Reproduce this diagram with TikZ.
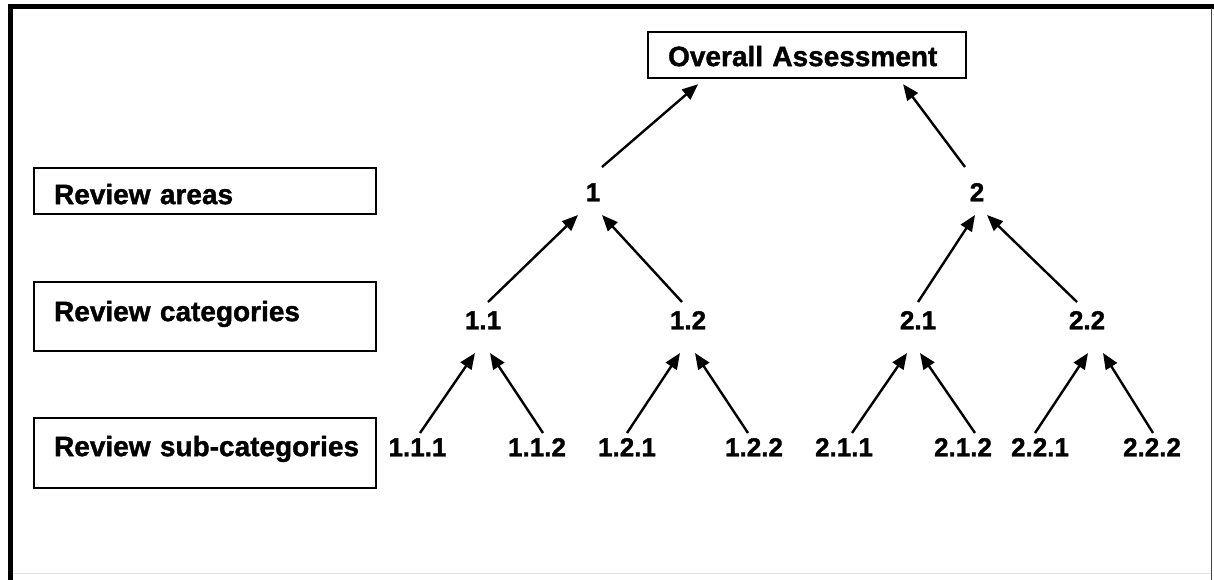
\documentclass[tikz,border=0pt]{standalone}
\usepackage{fontspec}
\setmainfont{Liberation Sans}[BoldFeatures={FakeBold=1.3}]
\usetikzlibrary{arrows.meta,calc}
\begin{document}
\begin{tikzpicture}[x=1pt,y=-1pt,
  every node/.style={font=\bfseries\fontsize{28}{32}\selectfont},
  catbox/.style={draw, line width=2.2pt, inner xsep=20pt, inner ysep=0pt, align=left, anchor=north west},
  num/.style={font=\bfseries\fontsize{26}{28}\selectfont, inner sep=0pt, text height=18.6pt, text depth=0pt},
  arr/.style={line width=2.4pt, -{Triangle[length=16pt,width=13pt]}}
]
\useasboundingbox (0,0) rectangle (1214,580);
\fill[white] (0,0) rectangle (1214,580);
% frame
\draw[line width=5pt] (8,6.5) -- (1214,6.5);
\draw[line width=5pt] (10.5,4) -- (10.5,580);
\draw[line width=1.5pt, black!75] (1211.5,8) -- (1211.5,580);
\draw[line width=1pt, black!12] (13,573) -- (1210,573);

% boxes
\node[catbox, text width=278pt, text height=34pt, text depth=12pt] (oa) at (647,31) {\mbox{Overall Assessment}};
\node[catbox, text width=302pt, text height=36pt, text depth=10pt] (areas) at (33,167) {\mbox{Review areas}};
\node[catbox, text width=302pt, text height=39pt, text depth=30pt] (cats) at (33,281) {\mbox{Review categories}};
\node[catbox, text width=302pt, text height=38pt, text depth=32pt] (subs) at (33,417) {\mbox{Review sub-categories}};

% tree nodes
\node[num] (n1) at (593,192) {1};
\node[num] (n2) at (977,192) {2};
\node[num] (c11) at (483,320) {1.1};
\node[num] (c12) at (688,320) {1.2};
\node[num] (c21) at (918,320) {2.1};
\node[num] (c22) at (1087,320) {2.2};
\node[num] (l111) at (417.5,447) {1.1.1};
\node[num] (l112) at (537,447) {1.1.2};
\node[num] (l121) at (627,447) {1.2.1};
\node[num] (l122) at (754,447) {1.2.2};
\node[num] (l211) at (844,447) {2.1.1};
\node[num] (l212) at (963,447) {2.1.2};
\node[num] (l221) at (1040,447) {2.2.1};
\node[num] (l222) at (1152,447) {2.2.2};

% arrows to overall
\draw[arr] ([shift={(9,-25)}]n1.center) -- ([shift={(-109,5)}]oa.south);
\draw[arr] ([shift={(-12,-25)}]n2.center) -- ([shift={(96,5)}]oa.south);
% arrows to areas
\draw[arr] ([shift={(5,-18)}]c11.center) -- ([shift={(-15,23)}]n1.center);
\draw[arr] ([shift={(-6,-18)}]c12.center) -- ([shift={(9,23)}]n1.center);
\draw[arr] ([shift={(0,-18)}]c21.center) -- ([shift={(-2,23)}]n2.center);
\draw[arr] ([shift={(-10,-18)}]c22.center) -- ([shift={(10,23)}]n2.center);
% arrows to categories
\draw[arr] ([shift={(2.5,-14)}]l111.center) -- ([shift={(-8,33)}]c11.center);
\draw[arr] ([shift={(6,-14)}]l112.center) -- ([shift={(7,33)}]c11.center);
\draw[arr] ([shift={(0,-14)}]l121.center) -- ([shift={(-8,33)}]c12.center);
\draw[arr] ([shift={(-6,-14)}]l122.center) -- ([shift={(7,33)}]c12.center);
\draw[arr] ([shift={(8,-14)}]l211.center) -- ([shift={(-11,33)}]c21.center);
\draw[arr] ([shift={(12,-14)}]l212.center) -- ([shift={(2,33)}]c21.center);
\draw[arr] ([shift={(-5,-14)}]l221.center) -- ([shift={(1,33)}]c22.center);
\draw[arr] ([shift={(1,-14)}]l222.center) -- ([shift={(16,33)}]c22.center);
\end{tikzpicture}
\end{document}
